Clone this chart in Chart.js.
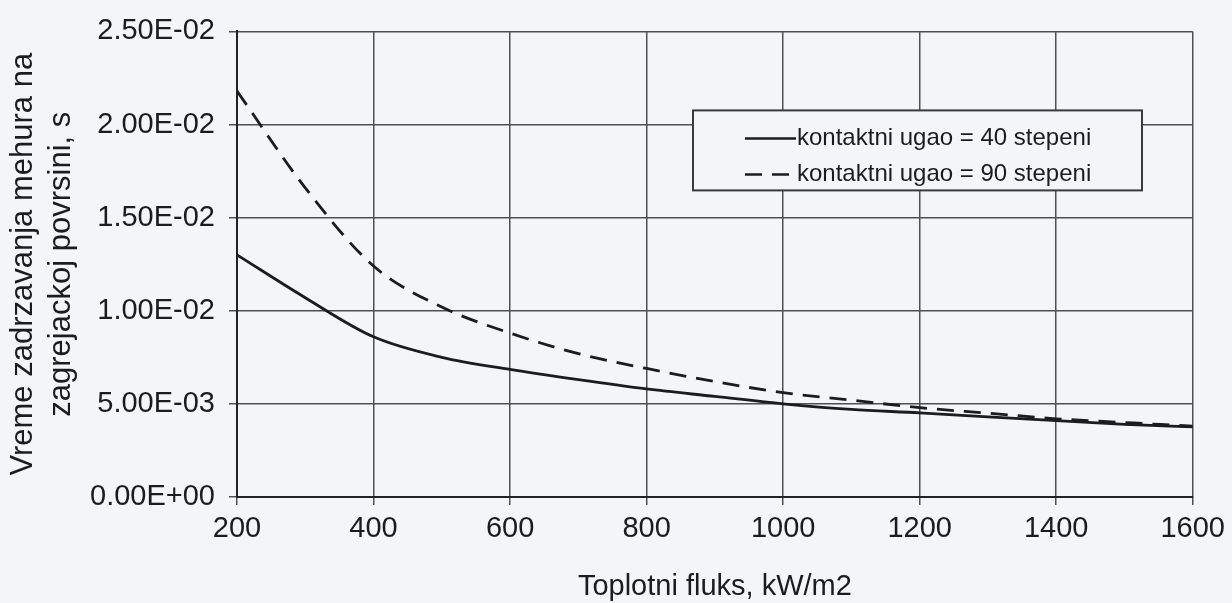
<!DOCTYPE html>
<html>
<head>
<meta charset="utf-8">
<script src="https://cdn.jsdelivr.net/npm/chart.js@4.4.1/dist/chart.umd.min.js"></script>
<style>
  html, body { margin: 0; padding: 0; background: #f4f5f7; }
  #wrap { width: 1232px; height: 603px; }
</style>
</head>
<body>
<div id="wrap"><canvas id="fluxChart" width="1232" height="603"></canvas></div>
<script>
// heat flux, kW/m2
const fluxValues = [200, 300, 400, 500, 600, 700, 800, 900, 1000, 1100, 1200, 1300, 1400, 1500, 1600];
// bubble residence time, s
const angle40Values = [0.0130, 0.0107, 0.0086, 0.0075, 0.00685, 0.0063, 0.0058, 0.0054, 0.0050, 0.0047, 0.00452, 0.0043, 0.0041, 0.0039, 0.00376];
const angle90Values = [0.0218, 0.0166, 0.0124, 0.0102, 0.0088, 0.0077, 0.0069, 0.0062, 0.0056, 0.0052, 0.0048, 0.0045, 0.0042, 0.0040, 0.0038];
const seriesLabels = ["kontaktni ugao = 40 stepeni", "kontaktni ugao = 90 stepeni"];
const xTitle = "Toplotni fluks, kW/m2";
const yTitle = ["Vreme zadrzavanja mehura na", "zagrejackoj povrsini, s"];

const FONT = "'Liberation Sans', Arial, sans-serif";
const INK = "#1c1c1c";

function toPoints(values) {
  return fluxValues.map((x, i) => ({ x: x, y: values[i] }));
}

function formatSci(v) {
  // Excel style: 2.50E-02
  const parts = Number(v).toExponential(2).split("e");
  const exp = parseInt(parts[1], 10);
  const sign = exp < 0 ? "-" : "+";
  return parts[0] + "E" + sign + String(Math.abs(exp)).padStart(2, "0");
}

const pageBackground = {
  id: "pageBackground",
  beforeDraw(chart) {
    const ctx = chart.ctx;
    ctx.save();
    ctx.fillStyle = "#f4f5f7";
    ctx.fillRect(0, 0, chart.width, chart.height);
    ctx.restore();
  },
};

// boxed legend sitting inside the plot, like the original spreadsheet chart
const boxLegend = {
  id: "boxLegend",
  afterDatasetsDraw(chart) {
    const ctx = chart.ctx;
    const area = chart.chartArea;
    const left = area.left + 456;
    const top = area.top + 79;
    const w = 449;
    const h = 80;
    ctx.save();
    ctx.fillStyle = "#f4f5f7";
    ctx.fillRect(left, top, w, h);
    ctx.strokeStyle = "#3a3a3a";
    ctx.lineWidth = 2;
    ctx.strokeRect(left, top, w, h);
    ctx.font = "24px " + FONT;
    ctx.fillStyle = INK;
    ctx.textBaseline = "middle";
    chart.data.datasets.forEach((ds, i) => {
      const y = top + 28 + i * 36;
      ctx.strokeStyle = INK;
      ctx.lineWidth = 2.5;
      ctx.setLineDash(ds.borderDash || []);
      ctx.beginPath();
      ctx.moveTo(left + 52, y);
      ctx.lineTo(left + 103, y);
      ctx.stroke();
      ctx.setLineDash([]);
      ctx.fillText(ds.label, left + 104, y);
    });
    ctx.restore();
  },
};

const ctx = document.getElementById("fluxChart").getContext("2d");
new Chart(ctx, {
  type: "line",
  data: {
    datasets: [
      {
        label: seriesLabels[0],
        data: toPoints(angle40Values),
        borderColor: INK,
        borderWidth: 2.8,
        pointRadius: 0,
        cubicInterpolationMode: "monotone",
        fill: false,
      },
      {
        label: seriesLabels[1],
        data: toPoints(angle90Values),
        borderColor: INK,
        borderWidth: 2.8,
        borderDash: [17, 10],
        pointRadius: 0,
        cubicInterpolationMode: "monotone",
        fill: false,
      },
    ],
  },
  options: {
    responsive: false,
    animation: false,
    layout: { padding: { top: 26, right: 33, left: 4, bottom: 0 } },
    plugins: {
      legend: { display: false },
      tooltip: { enabled: false },
    },
    scales: {
      x: {
        type: "linear",
        min: 200,
        max: 1600,
        ticks: {
          stepSize: 200,
          color: INK,
          font: { family: FONT, size: 29 },
          padding: 7,
          callback: (v) => String(v),
        },
        grid: { color: "#505050", lineWidth: 1.5, tickLength: 8 },
        border: { color: "#222", width: 2 },
        title: {
          display: true,
          text: xTitle,
          color: INK,
          font: { family: FONT, size: 29, lineHeight: 1.0 },
          padding: { top: 6, bottom: 2 },
        },
        afterFit(scale) {
          scale.height = 106;
        },
      },
      y: {
        min: 0,
        max: 0.025,
        ticks: {
          stepSize: 0.005,
          color: INK,
          font: { family: FONT, size: 29 },
          padding: 14,
          callback: (v) => formatSci(v),
        },
        grid: { color: "#505050", lineWidth: 1.5, tickLength: 8 },
        border: { color: "#222", width: 2 },
        title: {
          display: true,
          text: yTitle,
          color: INK,
          font: { family: FONT, size: 31, lineHeight: 1.23 },
          padding: { top: 0, bottom: 6 },
        },
        afterFit(scale) {
          scale.width = 233;
        },
      },
    },
  },
  plugins: [pageBackground, boxLegend],
});
</script>
</body>
</html>
